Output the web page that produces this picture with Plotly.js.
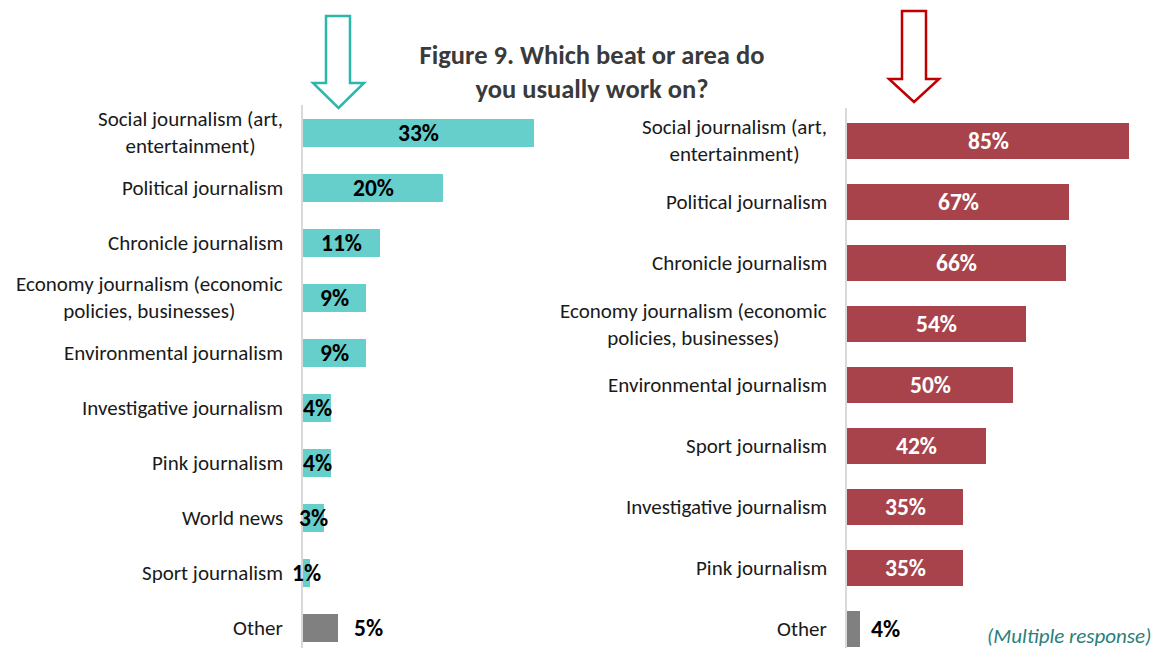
<!DOCTYPE html>
<html>
<head>
<meta charset="utf-8">
<script src="https://cdn.plot.ly/plotly-3.0.1.min.js"></script>
<style>html,body{margin:0;padding:0;background:#fff;}#chart{width:1154px;height:648px;}</style>
</head>
<body>
<div id="chart"></div>
<script>
// ---- Data ----
const leftCategories = ["Social journalism (art,<br>entertainment)", "Political journalism", "Chronicle journalism", "Economy journalism (economic<br>policies, businesses)", "Environmental journalism", "Investigative journalism", "Pink journalism", "World news", "Sport journalism", "Other"];
const leftValues = [33, 20, 11, 9, 9, 4, 4, 3, 1, 5];
const rightCategories = ["Social journalism (art,<br>entertainment)", "Political journalism", "Chronicle journalism", "Economy journalism (economic<br>policies, businesses)", "Environmental journalism", "Sport journalism", "Investigative journalism", "Pink journalism", "Other"];
const rightValues = [85, 67, 66, 54, 50, 42, 35, 35, 4];
const titleText = "Figure 9. Which beat or area do<br>you usually work on?";
const noteText = "(Multiple response)";

// ---- Styling ----
const W = 1154, H = 648;
const FONT = "Carlito, Lato, 'Open Sans', sans-serif";
const TEAL = "#66cfcb", RED = "#a8434b", GRAY = "#808080";
const px = x => x / W, py = y => 1 - y / H;
const LABEL_SIZE = 21, VALUE_SIZE = 23.5;

const leftColors = leftCategories.map(c => c === "Other" ? GRAY : TEAL);
const rightColors = rightCategories.map(c => c === "Other" ? GRAY : RED);

const traces = [
  {type: 'bar', orientation: 'h', y: leftCategories, x: leftValues, xaxis: 'x', yaxis: 'y',
   marker: {color: leftColors, line: {width: 0}}, width: 0.51, hoverinfo: 'skip'},
  {type: 'bar', orientation: 'h', y: rightCategories, x: rightValues, xaxis: 'x2', yaxis: 'y2',
   marker: {color: rightColors, line: {width: 0}}, width: 0.59, hoverinfo: 'skip'}
];

const annotations = [];
leftCategories.forEach((c, i) => {
  annotations.push({xref: 'x', yref: 'y', x: 0, y: c, text: c, showarrow: false, xanchor: 'right', xshift: -18,
    align: 'center', font: {family: FONT, size: LABEL_SIZE, color: '#1a1a1a'}});
  const other = c === "Other";
  annotations.push({xref: 'x', yref: 'y', x: other ? leftValues[i] : leftValues[i] / 2, y: c, text: '<b>' + leftValues[i] + '%</b>',
    showarrow: false, xanchor: other ? 'left' : 'center', xshift: other ? 14 : 0,
    font: {family: FONT, size: VALUE_SIZE, color: '#000'}});
});
rightCategories.forEach((c, i) => {
  annotations.push({xref: 'x2', yref: 'y2', x: 0, y: c, text: c, showarrow: false, xanchor: 'right', xshift: -18,
    align: 'center', font: {family: FONT, size: LABEL_SIZE, color: '#1a1a1a'}});
  const other = c === "Other";
  annotations.push({xref: 'x2', yref: 'y2', x: other ? rightValues[i] : rightValues[i] / 2, y: c, text: '<b>' + rightValues[i] + '%</b>',
    showarrow: false, xanchor: other ? 'left' : 'center', xshift: other ? 9 : 0,
    font: {family: FONT, size: VALUE_SIZE, color: other ? '#000' : '#fff'}});
});
annotations.push({xref: 'paper', yref: 'paper', x: px(1153), y: py(636), text: '<i>' + noteText + '</i>', showarrow: false,
  xanchor: 'right', yanchor: 'middle', font: {family: FONT, size: 21, color: '#2b7f7a'}});

function arrowPath(l, r, top, shaftBottom, wl, wr, tipY) {
  const cx = (wl + wr) / 2;
  const pts = [[l, top], [r, top], [r, shaftBottom], [wr, shaftBottom], [cx, tipY], [wl, shaftBottom], [l, shaftBottom]];
  return 'M ' + pts.map(p => px(p[0]) + ',' + py(p[1])).join(' L ') + ' Z';
}
const shapes = [
  {type: 'path', xref: 'paper', yref: 'paper', path: arrowPath(326, 350, 16, 83, 313, 364, 108),
   line: {color: '#2bb8ab', width: 2.5}, fillcolor: 'rgba(255,255,255,0)'},
  {type: 'path', xref: 'paper', yref: 'paper', path: arrowPath(902, 926, 11, 79, 889, 939, 102),
   line: {color: '#c00000', width: 2.5}, fillcolor: 'rgba(255,255,255,0)'}
];

const layout = {
  width: W, height: H,
  margin: {l: 0, r: 0, t: 0, b: 0, pad: 0},
  paper_bgcolor: '#fff', plot_bgcolor: 'rgba(0,0,0,0)',
  showlegend: false,
  font: {family: FONT},
  title: {text: '<b>' + titleText + '</b>', x: px(592), xanchor: 'center', xref: 'paper',
    y: py(63.5), yanchor: 'middle', yref: 'paper', font: {family: FONT, size: 26.5, color: '#3a3a3a'}},
  xaxis: {domain: [px(303), px(555)], range: [0, 252 / 7.0], showgrid: false, zeroline: false, showticklabels: false, showline: false, fixedrange: true},
  yaxis: {domain: [0, py(105)], anchor: 'x', type: 'category', categoryarray: leftCategories, range: [9.364, -0.509],
    showgrid: false, zeroline: false, showticklabels: false, showline: true, linecolor: '#d9d9d9', linewidth: 2, ticks: ''},
  xaxis2: {domain: [px(847), px(1140)], range: [0, 293 / 3.32], anchor: 'y2', showgrid: false, zeroline: false, showticklabels: false, showline: false},
  yaxis2: {domain: [0, py(108)], anchor: 'x2', type: 'category', categoryarray: rightCategories, range: [8.31, -0.54],
    showgrid: false, zeroline: false, showticklabels: false, showline: true, linecolor: '#d9d9d9', linewidth: 2, ticks: ''},
  annotations: annotations,
  shapes: shapes,
  bargap: 0
};

Plotly.newPlot('chart', traces, layout, {displayModeBar: false, staticPlot: true});
</script>
</body>
</html>
